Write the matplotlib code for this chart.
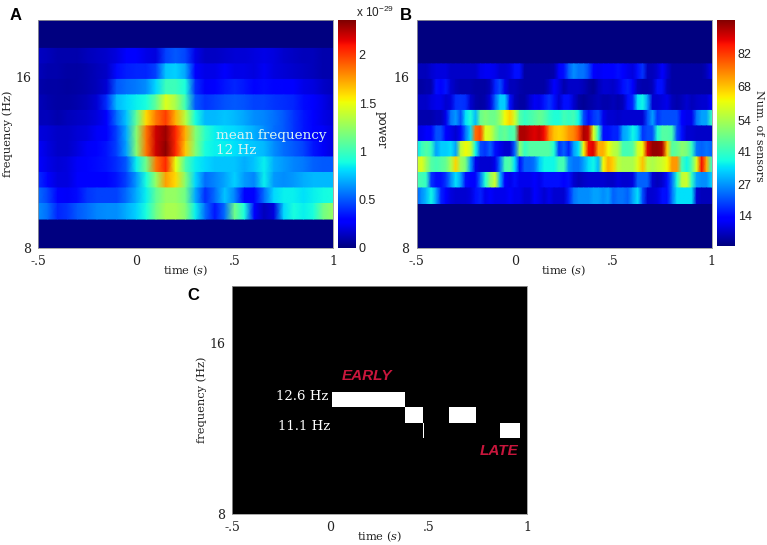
import numpy as np
import matplotlib
matplotlib.use("Agg")
import matplotlib.pyplot as plt

W, H = 767, 545
serif = "DejaVu Serif"
sans = "Liberation Sans"
plt.rcParams["mathtext.fontset"] = "dejavuserif"

# power, top row first, one value every .05 s (units of 1e-29)
power_rows = [
    [.14,.12,.1,.1,.1,.12,.14,.16,.2,.26,.28,.22,.2,.45,.5,.46,.22,.14,.14,.16,.18,.18,.2,.22,.2,.16,.14,.12,.12,.1,.1],
    [.12,.1,.1,.08,.08,.1,.12,.15,.32,.36,.38,.38,.45,.75,.78,.68,.3,.22,.22,.28,.22,.22,.2,.24,.2,.18,.16,.14,.12,.1,.1],
    [.1,.08,.08,.07,.08,.1,.12,.18,.5,.55,.58,.62,.8,1.0,1.0,.9,.4,.25,.28,.35,.38,.35,.3,.32,.3,.3,.28,.22,.2,.15,.12],
    [.12,.1,.08,.08,.1,.12,.18,.4,.72,.8,.85,.9,1.1,1.45,1.3,1.0,.5,.42,.45,.48,.5,.48,.45,.45,.42,.4,.38,.32,.28,.22,.15],
    [.12,.12,.1,.12,.14,.16,.2,.3,.55,.75,1.1,1.6,1.85,2.0,1.7,1.35,.9,.72,.72,.75,.72,.68,.62,.6,.56,.5,.42,.35,.28,.22,.18],
    [.2,.18,.15,.15,.18,.2,.25,.3,.45,.7,1.2,1.85,2.2,2.3,2.05,1.7,1.2,.95,.85,.82,.8,.75,.7,.62,.55,.5,.42,.35,.3,.25,.2],
    [.25,.2,.15,.15,.2,.25,.3,.35,.45,.68,1.2,1.85,2.2,2.33,2.05,1.65,1.2,.9,.85,.85,.82,.78,.75,.72,.62,.55,.5,.45,.35,.25,.2],
    [.3,.22,.18,.2,.25,.3,.32,.35,.4,.5,.85,1.15,1.85,2.05,1.5,1.05,.85,.8,.75,.75,.75,.7,.75,.85,.7,.65,.6,.58,.52,.5,.5],
    [.4,.3,.2,.2,.28,.3,.28,.3,.35,.45,.65,.9,1.25,1.75,1.6,1.2,.8,.55,.6,.68,.78,.65,.6,.85,.65,.62,.65,.7,.72,.72,.72],
    [.55,.45,.3,.25,.32,.42,.45,.45,.45,.55,.7,.85,1.1,1.25,1.25,1.15,.7,.4,.55,.75,.6,.3,.3,.55,.8,.85,.85,.82,.85,.88,.9],
    [.62,.55,.38,.42,.5,.55,.6,.62,.62,.7,.78,.9,1.15,1.3,1.3,1.2,.85,.55,.35,.55,1.15,.9,.3,.12,.2,.8,.9,.85,.9,1.15,1.25],
]

# number of sensors, top row first, one value every .025 s
sensor_rows = [
    [6,6,6,8,9,9,9,7,7,7,7,7,7,10,11,11,10,8,8,9,14,14,4,4,4,4,4,4,5,13,14,
     22,26,24,24,20,12,11,12,12,12,14,12,10,9,14,18,6,6,8,12,8,4,4,4,4,4,4,4,6,10],
    [4,4,5,5,14,12,15,8,6,5,5,5,4,4,4,6,16,20,10,6,6,5,4,4,4,4,4,7,12,9,5,
     7,7,7,6,4,3,6,8,8,7,9,14,16,12,6,5,5,6,14,14,6,4,4,4,4,4,4,4,4,4],
    [7,7,7,9,10,10,8,9,17,18,17,8,5,4,5,9,22,32,32,14,6,4,4,8,11,10,15,18,14,8,14,
     14,8,4,3,4,5,6,5,5,6,5,6,14,16,34,36,28,8,8,9,10,6,5,6,8,6,7,8,8,12],
    [5,5,5,5,6,6,10,24,27,20,34,38,30,46,49,47,47,52,62,66,58,44,40,42,44,46,44,40,38,38,42,
     40,42,36,20,14,18,20,10,8,8,7,8,8,8,8,8,20,28,18,20,20,20,20,12,10,10,24,28,28,40],
    [10,10,12,12,20,20,12,10,8,12,24,34,76,80,60,58,50,44,46,42,44,92,92,90,88,90,86,74,68,66,68,
     72,74,80,92,90,60,40,14,14,16,16,28,30,36,32,18,20,20,38,44,44,42,20,14,8,8,7,7,7,7],
    [34,40,44,40,28,32,32,34,28,56,62,58,36,20,18,22,14,10,8,8,22,50,40,44,44,44,44,44,38,18,22,
     16,28,34,62,86,88,70,70,62,56,54,42,42,44,58,62,88,94,94,92,66,44,46,50,48,40,24,22,24,22],
    [56,60,52,44,42,44,46,54,66,52,48,28,10,8,8,8,10,24,42,44,34,14,22,22,24,32,36,36,36,42,42,
     26,24,24,28,34,36,30,62,70,66,56,54,54,54,60,68,56,54,56,58,62,72,72,42,36,44,60,86,70,40],
    [42,42,40,18,14,14,18,26,34,28,14,12,12,24,38,50,58,30,12,10,14,10,10,10,12,10,14,14,14,14,12,
     14,8,6,7,8,8,8,8,7,7,9,8,8,9,22,22,22,8,6,8,14,24,38,56,58,40,28,26,26,32],
    [22,26,30,36,28,16,12,9,8,8,8,9,14,16,10,12,10,10,10,12,10,10,8,8,12,10,8,10,8,8,8,
     16,24,26,26,26,28,28,26,28,22,24,24,22,28,34,20,8,8,9,14,14,24,34,34,34,34,8,6,6,6],
]

# white spans of panel C: start, stop (s) and index of the frequency band
span_start = [.01, .379, .472, .604, .864]
span_stop = [.379, .472, .477, .743, .963]
span_band = [5, 4, 3, 4, 3]

band_edges = np.geomspace(9, 18, 12)
freq_lim = (8, 20.2)
time_lim = (-.5, 1)
time_ticks = [-.5, 0, .5, 1]
time_labels = ["-.5", "0", ".5", "1"]
power_ticks = [0, .5, 1, 1.5, 2]
power_labels = ["0", "0.5", "1", "1.5", "2"]
sensor_ticks = [14, 27, 41, 54, 68, 82]

jet = plt.get_cmap("jet")


def box(x0, y0, x1, y1):
    # pixel box, y from the top of the picture
    return [x0 / W, 1 - y1 / H, (x1 - x0) / W, (y1 - y0) / H]


def ftext(x, y, s, **kw):
    fig.text(x / W, 1 - y / H, s, **kw)


def freq_axes(x0, y0, x1, y1, ylabel=True):
    ax = fig.add_axes(box(x0, y0, x1, y1))
    ax.set_yscale("log")
    ax.set_xlim(time_lim)
    ax.set_ylim(freq_lim)
    ax.set_xticks(time_ticks, time_labels, family=serif, fontsize=9)
    ax.set_yticks([8, 16], ["8", "16"], family=serif, fontsize=9)
    ax.minorticks_off()
    ax.tick_params(length=0, pad=5, colors="#222222")
    ax.tick_params(axis="x", pad=5)
    ax.set_xlabel("time ($\\mathit{s}$)", family=serif, fontsize=8.2, color="#222222")
    ax.xaxis.set_label_coords(.5, -23 / 228, transform=ax.transAxes)
    ax.xaxis.label.set_va("center")
    if ylabel:
        ax.set_ylabel("frequency (Hz)", family=serif, fontsize=8.2, color="#222222")
        ax.yaxis.set_label_coords(-30 / 295, .5)
        ax.yaxis.label.set_va("center")
    for s in ax.spines.values():
        s.set_color("#999999")
        s.set_linewidth(.6)
    return ax


def bands(ax, rows, first_band, vmin, vmax):
    # smooth along time, stepped between the frequency bands
    rows = np.array(rows, dtype=float)
    t = np.linspace(time_lim[0], time_lim[1], rows.shape[1])
    n = rows.shape[0]
    for k in range(n):
        lo = band_edges[first_band + n - 1 - k]
        hi = band_edges[first_band + n - k]
        ax.pcolormesh(t, [lo, hi], np.vstack([rows[k], rows[k]]), shading="gouraud",
                      cmap=jet, vmin=vmin, vmax=vmax)


def colorbar(x0, y0, x1, y1, vmin, vmax, ticks, labels):
    cax = fig.add_axes(box(x0, y0, x1, y1))
    cax.imshow(np.linspace(vmax, vmin, 256)[:, None], cmap=jet, aspect="auto",
               extent=[0, 1, vmin, vmax], vmin=vmin, vmax=vmax)
    cax.set_xticks([])
    cax.yaxis.tick_right()
    cax.set_yticks(ticks, labels, family=sans, fontsize=9)
    cax.tick_params(length=0, pad=2, colors="#222222")
    for s in cax.spines.values():
        s.set_visible(False)
    return cax


fig = plt.figure(figsize=(W / 100, H / 100), dpi=100)

# A
ax_a = freq_axes(38, 20, 333, 248)
ax_a.set_facecolor(jet(0.0))
bands(ax_a, power_rows, 0, 0, 2.36)
colorbar(338, 20, 356, 248, 0, 2.36, power_ticks, power_labels)
ftext(216, 136, "mean frequency", family=serif, fontsize=9.7, color="#d6f4f2", va="center")
ftext(216, 150, "12 Hz", family=serif, fontsize=9.7, color="#d6f4f2", va="center")
ftext(356, 12, "x 10$^{\\mathregular{-29}}$", family=sans, fontsize=8.5, color="#222222", va="center")
ftext(381, 130, "power", family=serif, fontsize=8.5, color="#222222", rotation=270, ha="center", va="center")
ftext(10, 15, "A", family=sans, fontsize=12, fontweight="bold", va="center")

# B
ax_b = freq_axes(416.5, 20, 711.5, 248, ylabel=False)
ax_b.set_facecolor(jet(0.0))
bands(ax_b, sensor_rows, 1, 1, 96)
colorbar(717, 20, 735, 246.5, 1, 96, sensor_ticks, [str(v) for v in sensor_ticks])
ftext(759, 136, "Num. of sensors", family=serif, fontsize=8, color="#222222", rotation=270, ha="center", va="center")
ftext(400, 15, "B", family=sans, fontsize=12, fontweight="bold", va="center")

# C
ax_c = freq_axes(232, 286, 527, 514)
ax_c.set_facecolor("black")
for t0, t1, b in zip(span_start, span_stop, span_band):
    ax_c.fill_between([t0, t1], band_edges[b], band_edges[b + 1], color="white", lw=0)
ftext(328, 396, "12.6 Hz", family=serif, fontsize=9.5, color="white", ha="right", va="center")
ftext(330, 426, "11.1 Hz", family=serif, fontsize=9.5, color="white", ha="right", va="center")
ftext(342, 376, "EARLY", family=sans, fontsize=11, fontweight="bold", style="italic", color="#c8163c", va="center")
ftext(480, 451, "LATE", family=sans, fontsize=11, fontweight="bold", style="italic", color="#c8163c", va="center")
ftext(187, 296, "C", family=sans, fontsize=12, fontweight="bold", va="center")

fig.savefig("out.png", dpi=100)
